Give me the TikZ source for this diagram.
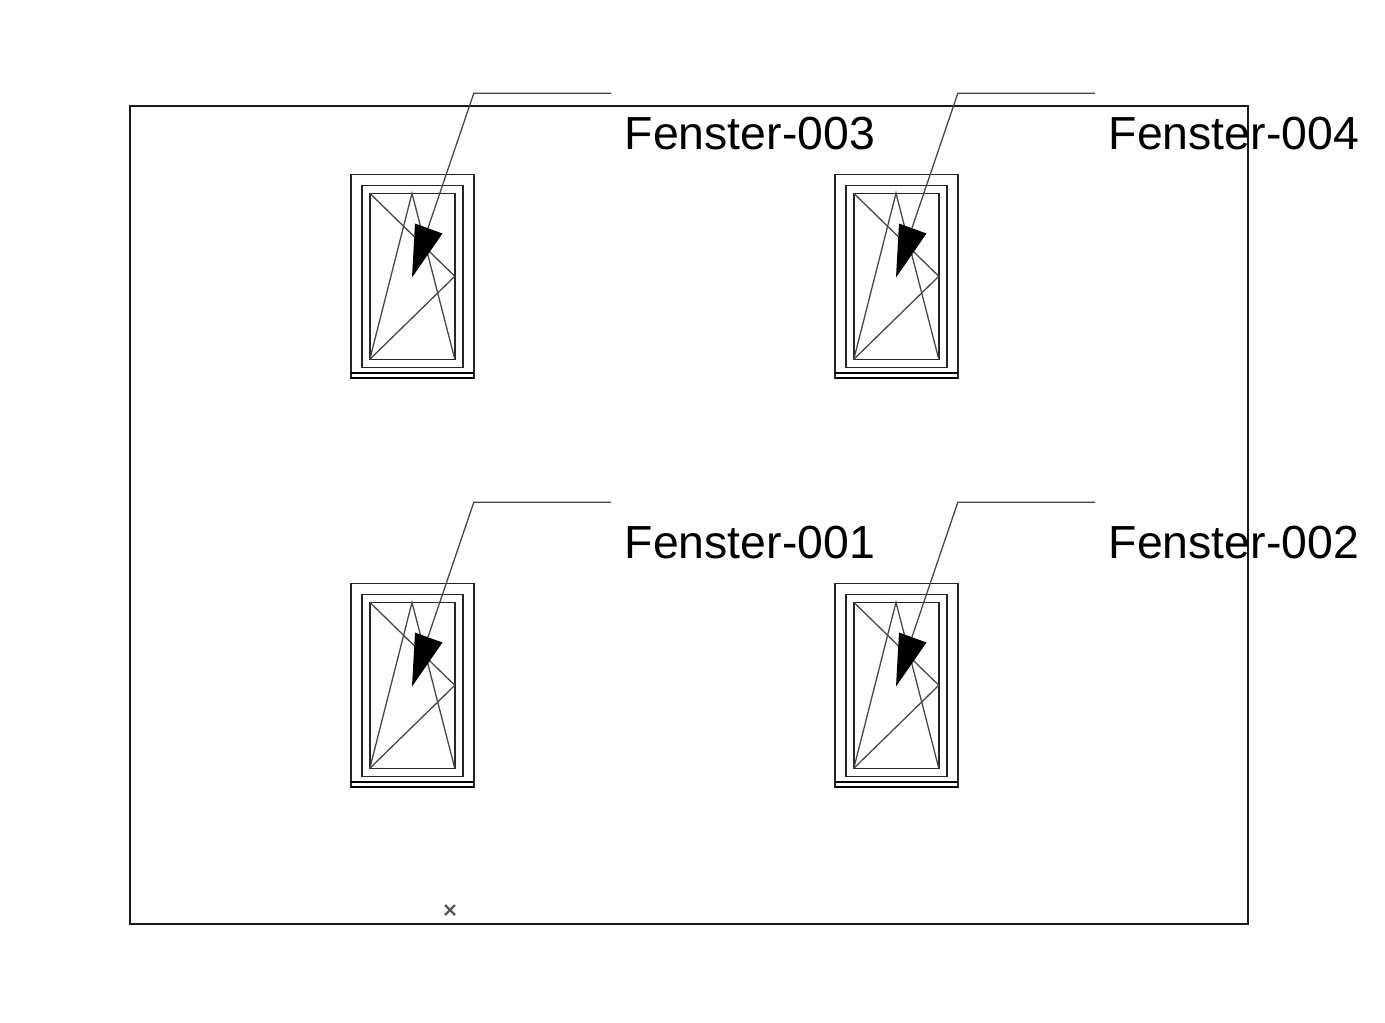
\documentclass[tikz,border=0pt]{standalone}
\usepackage{fontspec}
\setmainfont{Liberation Sans}
\tikzset{
  frameline/.style={line width=1.4pt,black!85},
  thinline/.style={line width=1.3pt,black!72},
  tag/.style={inner sep=0pt,anchor=west,font=\fontsize{46.4}{50}\selectfont}
}
\begin{document}
\begin{tikzpicture}[x=1pt,y=-1pt]
\useasboundingbox (0,0) rectangle (1385,1023);
\draw [line width=1.2pt,black!90] (130,106) rectangle (1248,924);
\foreach \dx/\dy/\name in {0/0/003,484/0/004,0/409/001,484/409/002} {
\begin{scope}[shift={(\dx,\dy)}]
\draw [frameline] (350.8,174.3) rectangle (473.8,378);
\draw [frameline] (361.8,185.3) rectangle (462.8,367.3);
\draw [frameline] (369.8,193.3) rectangle (454.8,359.3);
\draw [line width=1.8pt] (350.8,373.3) -- (473.8,373.3);
\draw [line width=1.8pt] (350.8,378) -- (473.8,378);
\draw [thinline] (369.8,193.3) -- (454.8,276.3) -- (369.8,359.3);
\draw [thinline] (369.8,359.3) -- (412,193.3) -- (454.8,359.3);
\fill (412,277.5) -- (415,223.5) -- (442.5,233.5) -- cycle;
\coordinate (tip\name) at (428,228);
\coordinate (end\name) at (611,93.3);
\draw [thinline] (tip\name) -- (473.8,93.3) -- (end\name);
\node (label\name) [tag] at (624.5,133.3) {Fenster-\name};
\end{scope}
}
\draw [line width=2.4pt,black!65] (445,905) -- (455,915) (455,905) -- (445,915);
\end{tikzpicture}
\end{document}
